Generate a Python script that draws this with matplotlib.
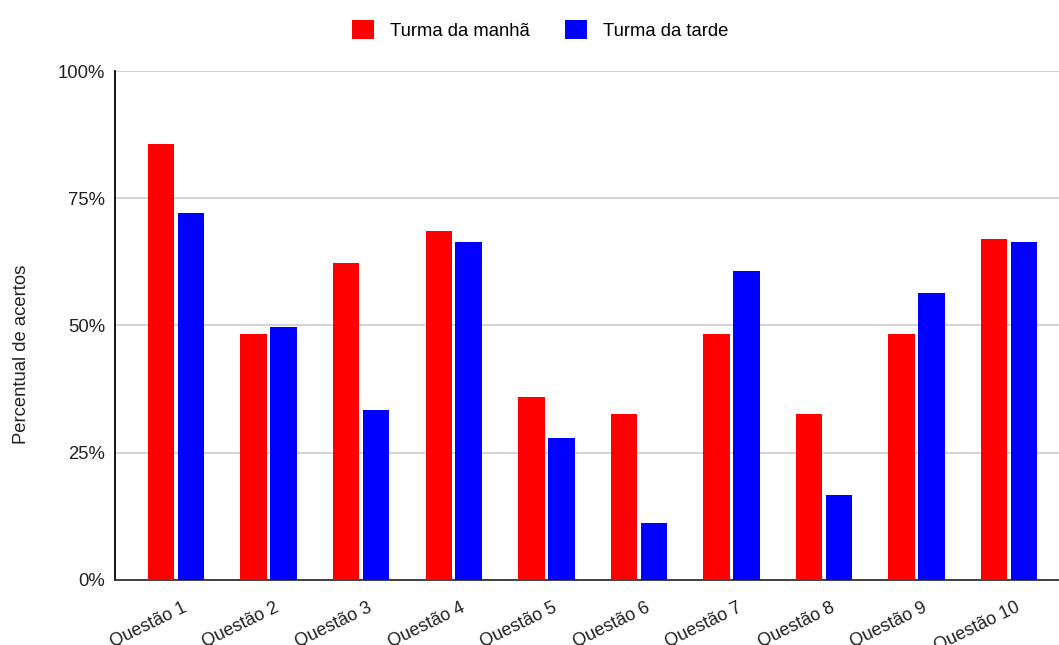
import matplotlib.pyplot as plt
import matplotlib.transforms as mtransforms
import numpy as np
from matplotlib.patches import Patch

questoes = ["Questão 1", "Questão 2", "Questão 3", "Questão 4", "Questão 5",
            "Questão 6", "Questão 7", "Questão 8", "Questão 9", "Questão 10"]
manha = [85.6, 48.3, 62.3, 68.6, 36.0, 32.6, 48.3, 32.6, 48.3, 67.0]
tarde = [72.1, 49.8, 33.4, 66.5, 27.9, 11.2, 60.8, 16.7, 56.4, 66.5]

plt.rcParams["font.family"] = ["Liberation Sans", "DejaVu Sans"]
keycolor = "#222222"

fig = plt.figure(figsize=(10.59, 6.45), dpi=100)
ax = fig.add_axes([0.1086, 0.1008, 0.8914, 0.7891])

x = np.arange(len(questoes))
w = 0.286
off = 0.162
ax.bar(x - off, manha, w, color="#ff0000", zorder=3)
ax.bar(x + off, tarde, w, color="#0000ff", zorder=3)

ax.set_xlim(-0.66, 9.54)
ax.set_ylim(0, 100)
ax.set_yticks([0, 25, 50, 75, 100])
ax.set_yticklabels(["0%", "25%", "50%", "75%", "100%"], fontsize=13.3, color=keycolor)
ax.yaxis.grid(True, color="#cccccc", linewidth=1.2, zorder=0)
ax.tick_params(axis="both", length=0)
ax.tick_params(axis="y", pad=7)

ax.set_xticks(x)
ax.set_xticklabels(questoes, rotation=26, ha="right", rotation_mode="anchor",
                   fontsize=13.0, color=keycolor)
ax.tick_params(axis="x", pad=8)
# nudge the slanted labels a little right and down
shift = mtransforms.ScaledTranslation(6 / 100, -8 / 100, fig.dpi_scale_trans)
for lbl in ax.get_xticklabels():
    lbl.set_transform(lbl.get_transform() + shift)

for side in ["top", "right"]:
    ax.spines[side].set_visible(False)
ax.spines["left"].set_color("#000000")
ax.spines["bottom"].set_color("#333333")
ax.spines["left"].set_linewidth(1.3)
ax.spines["bottom"].set_linewidth(1.3)

ax.set_ylabel("Percentual de acertos", fontsize=13.3, color=keycolor)
ax.yaxis.set_label_coords(-0.09, 0.444)

handles = [Patch(facecolor="#ff0000", label="Turma da manhã"),
           Patch(facecolor="#0000ff", label="Turma da tarde")]
fig.legend(handles=handles, loc="upper center", bbox_to_anchor=(0.51, 0.995), ncol=2,
           frameon=False, fontsize=13.3, handlelength=1.2, handleheight=1.2,
           handletextpad=0.85, columnspacing=1.9)

fig.savefig("out.png", dpi=100)
